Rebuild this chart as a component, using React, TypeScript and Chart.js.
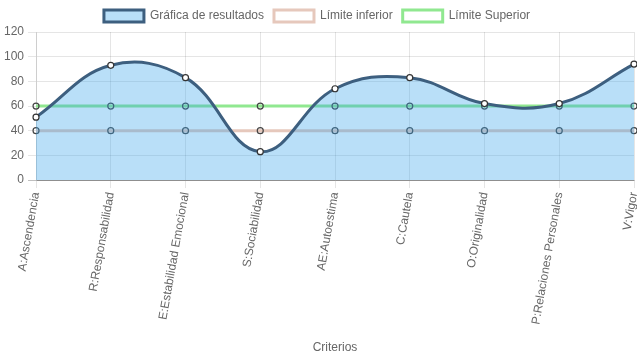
import React, { useEffect, useRef } from "react";
import { Chart, registerables } from "chart.js";

Chart.register(...registerables);

const categories = [
  "A:Ascendencia",
  "R:Responsabilidad",
  "E:Estabilidad Emocional",
  "S:Sociabilidad",
  "AE:Autoestima",
  "C:Cautela",
  "O:Originalidad",
  "P:Relaciones Personales",
  "V:Vigor",
];
const resultados = [51, 93, 83, 23, 74, 83, 62, 62, 94];
const limiteInferior = [40, 40, 40, 40, 40, 40, 40, 40, 40];
const limiteSuperior = [60, 60, 60, 60, 60, 60, 60, 60, 60];
const yTicks = [0, 20, 40, 60, 80, 100, 120];

export default function App() {
  const ref = useRef<HTMLCanvasElement>(null);
  useEffect(() => {
    if (!ref.current) return;
    Chart.defaults.font.family = "'Liberation Sans', Arial, Helvetica, sans-serif";
    Chart.defaults.color = "#666";
    const chart = new Chart(ref.current, {
      type: "line",
      data: {
        labels: categories,
        datasets: [
          {
            label: "Gráfica de resultados",
            data: resultados,
            fill: "origin",
            backgroundColor: "rgba(54,162,235,0.35)",
            borderColor: "#3d5f7f",
            borderWidth: 3,
            tension: 0.4,
            pointBackgroundColor: "#fff",
            pointBorderColor: "#333",
            pointBorderWidth: 1.2,
            pointRadius: 3,
          },
          {
            label: "Límite inferior",
            data: limiteInferior,
            fill: false,
            backgroundColor: "rgba(0,0,0,0)",
            borderColor: "#e6c8bc",
            borderWidth: 3,
            pointBackgroundColor: "rgba(0,0,0,0)",
            pointBorderColor: "#444",
            pointBorderWidth: 1.2,
            pointRadius: 3,
          },
          {
            label: "Límite Superior",
            data: limiteSuperior,
            fill: false,
            backgroundColor: "rgba(0,0,0,0)",
            borderColor: "#90e890",
            borderWidth: 3,
            pointBackgroundColor: "rgba(0,0,0,0)",
            pointBorderColor: "#444",
            pointBorderWidth: 1.2,
            pointRadius: 3,
          },
        ],
      },
      options: {
        animation: false,
        responsive: false,
        maintainAspectRatio: false,
        layout: { autoPadding: false, padding: { right: 3, top: 0, left: 0, bottom: 0 } },
        plugins: {
          legend: {
            labels: {
              boxWidth: 40,
              boxHeight: 12,
              font: { size: 12 },
              color: "#666",
              padding: 10,
            },
          },
          tooltip: { enabled: false },
        },
        scales: {
          x: {
            offset: false,
            afterFit: (s: any) => {
              s.paddingRight = 0;
            },
            grid: { color: "rgba(0,0,0,0.1)" },
            border: { color: "rgba(0,0,0,0.25)" },
            ticks: { minRotation: 80, maxRotation: 80, font: { size: 12 }, color: "#666", autoSkip: false },
            title: { display: true, text: "Criterios", font: { size: 12 }, color: "#666", padding: { top: 12, bottom: 4 } },
          },
          y: {
            min: 0,
            max: 120,
            afterBuildTicks: (axis: any) => {
              axis.ticks = yTicks.map((v) => ({ value: v }));
            },
            grid: { color: (ctx: any) => (ctx.tick && ctx.tick.value === 0 ? "rgba(0,0,0,0.25)" : "rgba(0,0,0,0.1)") },
            border: { color: "rgba(0,0,0,0.1)" },
            ticks: { font: { size: 12 }, color: "#666", padding: 4 },
          },
        },
      },
    });
    return () => chart.destroy();
  }, []);
  return (
    <div style={{ position: "fixed", left: 0, top: 0, width: 637, height: 359, background: "#fff" }}>
      <canvas ref={ref} width={637} height={359} style={{ width: 637, height: 359 }} />
    </div>
  );
}
